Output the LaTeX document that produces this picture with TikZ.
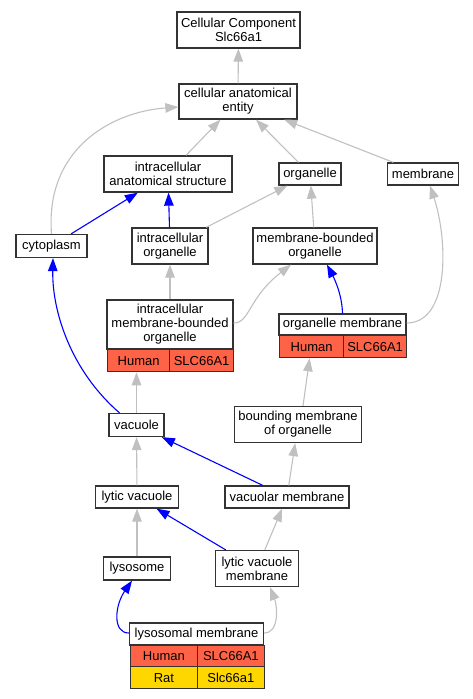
\documentclass[tikz,border=0pt]{standalone}
\usepackage{fontspec}
\setmainfont{Liberation Sans}
\usetikzlibrary{arrows.meta,calc}
\definecolor{human}{HTML}{FF6347}
\definecolor{rat}{HTML}{FFD700}
\definecolor{edgegray}{HTML}{C0C0C0}
\definecolor{edgeblue}{HTML}{0000FF}
\definecolor{border}{HTML}{333333}
\newcommand{\nodefnt}{\fontsize{13}{14}\selectfont}
\begin{document}
\begin{tikzpicture}[x=1pt,y=-1pt,
  box/.style={draw=border, line width=1.3pt, fill=white, inner sep=0pt, align=center, font=\nodefnt},
  cell/.style={box, anchor=north west},
  tip/.style={-{Triangle[length=13pt,width=9.5pt]}},
  gedge/.style={draw=edgegray, line width=1.1pt, tip},
  bedge/.style={draw=edgeblue, line width=1.1pt, tip}]
\useasboundingbox (0,0) rectangle (473,699);
% nodes
\node[box, minimum width=123, minimum height=36] (cc) at (238.5,30) {Cellular Component\\Slc66a1};
\node[box, minimum width=118, minimum height=35] (cae) at (238,101.5) {cellular anatomical\\entity};
\node[box, minimum width=128, minimum height=36] (ias) at (168,174) {intracellular\\anatomical structure};
\node[box, minimum width=62, minimum height=22] (org) at (310,174) {organelle};
\node[box, minimum width=71, minimum height=22] (mem) at (423,174) {membrane};
\node[box, minimum width=71, minimum height=23] (cyto) at (51.5,246) {cytoplasm};
\node[box, minimum width=76, minimum height=36] (io) at (170,246) {intracellular\\organelle};
\node[box, minimum width=124, minimum height=36] (mbo) at (315,246) {membrane-bounded\\organelle};
\node[box, minimum width=126, minimum height=49] (imbo) at (170,324.5) {intracellular\\membrane-bounded\\organelle};
\node[cell, fill=human, minimum width=62, minimum height=22] (imboh1) at (107,349) {Human};
\node[cell, fill=human, minimum width=64, minimum height=22] (imboh2) at (169,349) {SLC66A1};
\node[box, minimum width=127, minimum height=21] (om) at (342.5,324.5) {organelle membrane};
\node[cell, fill=human, minimum width=64, minimum height=22] (omh1) at (279,335) {Human};
\node[cell, fill=human, minimum width=63, minimum height=22] (omh2) at (343,335) {SLC66A1};
\node[box, minimum width=55, minimum height=23] (vac) at (136.5,425) {vacuole};
\node[box, minimum width=127, minimum height=36] (bmo) at (298,424.5) {bounding membrane\\of organelle};
\node[box, minimum width=83, minimum height=22] (lv) at (137,497) {lytic vacuole};
\node[box, minimum width=124, minimum height=22] (vm) at (287,497) {vacuolar membrane};
\node[box, minimum width=67, minimum height=23] (lys) at (137,568.5) {lysosome};
\node[box, minimum width=83, minimum height=36] (lvm) at (257,568.5) {lytic vacuole\\membrane};
\node[box, minimum width=134, minimum height=22] (lm) at (196.5,634) {lysosomal membrane};
\node[cell, fill=human, minimum width=67.5, minimum height=21] (lmh1) at (129.5,645) {Human};
\node[cell, fill=human, minimum width=66.5, minimum height=21] (lmh2) at (197,645) {SLC66A1};
\node[cell, fill=rat, minimum width=67.5, minimum height=22] (lmr1) at (129.5,666) {Rat};
\node[cell, fill=rat, minimum width=66.5, minimum height=22] (lmr2) at (197,666) {Slc66a1};
% edges
\draw[gedge] (cae) -- (cc);
\draw[gedge] (ias) -- (cae);
\draw[gedge] (org) -- (cae);
\draw[gedge] (mem) -- (cae);
\draw[gedge] (cyto.north) .. controls (45,150) and (110,112) .. ($(cae.west)+(0,5.5)$);
\draw[bedge] (cyto) -- (ias);
\draw[bedge] (io) -- (ias);
\draw[gedge] (io) -- (org);
\draw[gedge] (mbo) -- (org);
\draw[gedge] (imbo.north) -- (io.south);
\draw[gedge] ($(imbo.east)+(0,-1.5)$) .. controls (250,323) and (248,298) .. ($(mbo.south)+(-24,0)$);
\draw[bedge] (om.north) .. controls (342,295) and (335,280) .. ($(mbo.south)+(12,0)$);
\draw[gedge] ($(om.east)+(0,-1.5)$) .. controls (450,323) and (448,240) .. ($(mem.south)+(7,0)$);
\draw[bedge] ($(vac.north)+(-17,0)$) .. controls (70,370) and (52,310) .. ($(cyto.south)+(1.5,0)$);
\draw[gedge] (vac.north) -- (vac.north |- imboh1.south);
\draw[gedge] ($(bmo.north)+(5,0)$) -- ($(omh1.south)+(-2,0)$);
\draw[gedge] (lv) -- (vac);
\draw[bedge] (vm) -- (vac);
\draw[gedge] (vm) -- (bmo);
\draw[gedge] (lys) -- (lv);
\draw[bedge] (lvm) -- (lv);
\draw[gedge] (lvm) -- (vm);
\draw[bedge] ($(lm.west)+(0,-1)$) .. controls (112,633) and (115,605) .. ($(lys.south)+(-5,0)$);
\draw[gedge] ($(lm.east)+(0,-1)$) .. controls (280,633) and (277,605) .. ($(lvm.south)+(13,0)$);
\end{tikzpicture}
\end{document}
